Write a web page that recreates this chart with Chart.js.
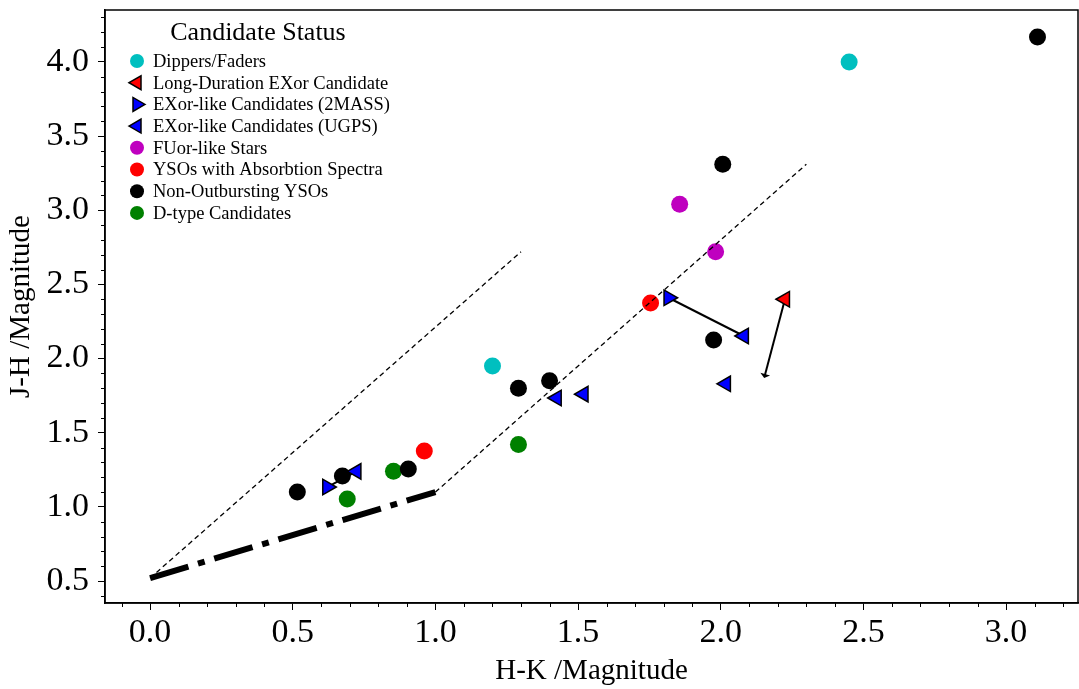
<!DOCTYPE html>
<html>
<head>
<meta charset="utf-8">
<script src="https://cdn.jsdelivr.net/npm/chart.js@4.4.0/dist/chart.umd.min.js"></script>
<style>
  body { margin: 0; background: #fff; }
  canvas { display: block; }
</style>
</head>
<body>
<canvas id="ccd" width="1079" height="689"></canvas>
<script>
// ===== Data =====
const dippersFaders   = [{ x: 2.45, y: 4.00 }, { x: 1.20, y: 1.95 }];
const longDurationEXor = [{ x: 2.225, y: 2.40 }];
const exor2MASS       = [{ x: 1.817, y: 2.41 }, { x: 0.621, y: 1.134 }];
const exorUGPS        = [{ x: 2.081, y: 2.152 }, { x: 1.425, y: 1.734 }, { x: 1.519, y: 1.76 },
                         { x: 2.018, y: 1.83 }, { x: 0.723, y: 1.24 }];
const fuorStars       = [{ x: 1.856, y: 3.04 }, { x: 1.982, y: 2.72 }];
const absorptionYSOs  = [{ x: 1.754, y: 2.375 }, { x: 0.961, y: 1.377 }];
const nonOutbursting  = [{ x: 3.11, y: 4.168 }, { x: 2.007, y: 3.31 }, { x: 1.975, y: 2.125 },
                         { x: 1.291, y: 1.80 }, { x: 1.40, y: 1.85 }, { x: 0.516, y: 1.10 },
                         { x: 0.674, y: 1.208 }, { x: 0.905, y: 1.255 }];
const dTypeCandidates = [{ x: 1.291, y: 1.42 }, { x: 0.853, y: 1.24 }, { x: 0.691, y: 1.053 }];

// CTTS locus and reddening bands
const cttsLocus      = [{ x: 0.0, y: 0.52 }, { x: 1.0, y: 1.10 }];
const reddeningUpper = [{ x: 0.0, y: 0.52 }, { x: 1.3, y: 2.72 }];
const reddeningLower = [{ x: 1.0, y: 1.10 }, { x: 2.3, y: 3.31 }];

// 2MASS -> UGPS movement arrows
const arrowLinks = [
  [{ x: 1.817, y: 2.41 }, { x: 2.081, y: 2.152 }],
  [{ x: 2.225, y: 2.40 }, { x: 2.154, y: 1.882 }],
  [{ x: 0.621, y: 1.134 }, { x: 0.723, y: 1.24 }]
];

const xTicks = [0.0, 0.5, 1.0, 1.5, 2.0, 2.5, 3.0];
const yTicks = [0.5, 1.0, 1.5, 2.0, 2.5, 3.0, 3.5, 4.0];
const xRange = [-0.158, 3.252];
const yRange = [0.352, 4.35];

const FONT = "'Liberation Serif', 'DejaVu Serif', serif";

// ===== Legend entries (custom drawn, matplotlib style) =====
const legendItems = [
  { label: 'Dippers/Faders', style: 'circle', fill: '#00bfbf', border: null, rot: 0 },
  { label: 'Long-Duration EXor Candidate', style: 'triangle', fill: '#ff0000', border: '#000', rot: -90 },
  { label: 'EXor-like Candidates (2MASS)', style: 'triangle', fill: '#0000ff', border: '#000', rot: 90 },
  { label: 'EXor-like Candidates (UGPS)', style: 'triangle', fill: '#0000ff', border: '#000', rot: -90 },
  { label: 'FUor-like Stars', style: 'circle', fill: '#bf00bf', border: null, rot: 0 },
  { label: 'YSOs with Absorbtion Spectra', style: 'circle', fill: '#ff0000', border: null, rot: 0 },
  { label: 'Non-Outbursting YSOs', style: 'circle', fill: '#000000', border: null, rot: 0 },
  { label: 'D-type Candidates', style: 'circle', fill: '#008000', border: null, rot: 0 }
];

function circles(data, color) {
  return { type: 'scatter', data, backgroundColor: color, borderWidth: 0, pointRadius: 8.5, pointStyle: 'circle' };
}
function triangles(data, color, rot) {
  return { type: 'scatter', data, backgroundColor: color, borderColor: '#000', borderWidth: 1.5,
           pointRadius: 9, pointStyle: 'triangle', rotation: rot };
}
function segment(data, width, dash) {
  return { type: 'line', data, borderColor: '#000', borderWidth: width, borderDash: dash,
           pointRadius: 0, fill: false, tension: 0, borderCapStyle: 'butt' };
}

const datasets = [
  // lines first so they are drawn on top of the markers
  segment(reddeningUpper, 1.3, [5, 3.5]),
  segment(reddeningLower, 1.3, [5, 3.5]),
  segment(cttsLocus, 6, [40, 10, 7, 10]),
  triangles(longDurationEXor, '#ff0000', -90),
  triangles(exor2MASS, '#0000ff', 90),
  triangles(exorUGPS, '#0000ff', -90),
  ...arrowLinks.map(a => segment(a, 2, [])),
  circles(dippersFaders, '#00bfbf'),
  circles(fuorStars, '#bf00bf'),
  circles(absorptionYSOs, '#ff0000'),
  circles(nonOutbursting, '#000000'),
  circles(dTypeCandidates, '#008000')
];

/* ===== Frame, minor ticks, arrowhead, legend ===== */
const decorPlugin = {
  id: 'decor',
  afterDraw(chart) {
    const { ctx, chartArea: a, scales } = chart;
    const xs = scales.x, ys = scales.y;
    ctx.save();
    // full box
    ctx.strokeStyle = '#000';
    ctx.lineWidth = 1.5;
    ctx.strokeRect(a.left, a.top, a.right - a.left, a.bottom - a.top);

    // minor ticks every 0.1
    ctx.lineWidth = 1;
    for (let i = -1; i <= 32; i++) {
      if (i % 5 === 0) continue;
      const px = Math.round(xs.getPixelForValue(i / 10)) + 0.5;
      if (px < a.left || px > a.right) continue;
      ctx.beginPath(); ctx.moveTo(px, a.bottom); ctx.lineTo(px, a.bottom + 4); ctx.stroke();
    }
    for (let i = 4; i <= 43; i++) {
      if (i % 5 === 0) continue;
      const py = Math.round(ys.getPixelForValue(i / 10)) + 0.5;
      if (py < a.top || py > a.bottom) continue;
      ctx.beginPath(); ctx.moveTo(a.left, py); ctx.lineTo(a.left - 4, py); ctx.stroke();
    }

    // arrowhead on the long-duration candidate's track
    const link = arrowLinks[1];
    const x0 = xs.getPixelForValue(link[0].x), y0 = ys.getPixelForValue(link[0].y);
    const x1 = xs.getPixelForValue(link[1].x), y1 = ys.getPixelForValue(link[1].y);
    const ang = Math.atan2(y1 - y0, x1 - x0);
    ctx.translate(x1, y1);
    ctx.rotate(ang);
    ctx.fillStyle = '#000';
    ctx.beginPath(); ctx.moveTo(2, 0); ctx.lineTo(-2, -5); ctx.lineTo(-2, 5); ctx.closePath(); ctx.fill();
    ctx.setTransform(1, 0, 0, 1, 0, 0);

    // legend
    ctx.fillStyle = '#000';
    ctx.font = `26px ${FONT}`;
    ctx.textAlign = 'center';
    ctx.textBaseline = 'middle';
    ctx.fillText('Candidate Status', 258, 33);
    ctx.font = `18.5px ${FONT}`;
    ctx.textAlign = 'left';
    legendItems.forEach((it, i) => {
      const y = 61 + i * 21.7;
      ctx.fillStyle = it.fill;
      ctx.strokeStyle = it.border || it.fill;
      ctx.lineWidth = it.border ? 1.5 : 0;
      Chart.helpers.drawPoint(ctx, {
        pointStyle: it.style, radius: it.style === 'circle' ? 7 : 8,
        rotation: it.rot, borderWidth: it.border ? 1.5 : 0
      }, 137, y);
      ctx.fillStyle = '#000';
      ctx.fillText(it.label, 153, y + 1);
    });
    ctx.restore();
  }
};

new Chart(document.getElementById('ccd'), {
  type: 'scatter',
  data: { datasets },
  options: {
    responsive: false,
    animation: false,
    layout: { autoPadding: false, padding: { top: 10, right: 1, left: 0, bottom: 0 } },
    plugins: { legend: { display: false }, tooltip: { enabled: false } },
    scales: {
      x: {
        type: 'linear', min: xRange[0], max: xRange[1],
        afterBuildTicks: s => { s.ticks = xTicks.map(v => ({ value: v })); },
        afterFit: s => { s.height = 86; s.paddingLeft = 0; s.paddingRight = 0; },
        ticks: { color: '#000', font: { family: FONT, size: 34 }, padding: 3,
                 maxRotation: 0, autoSkip: false, callback: v => v.toFixed(1) },
        grid: { drawOnChartArea: false, drawTicks: true, tickLength: 7, tickColor: '#000', tickWidth: 1 },
        border: { display: true, color: '#000', width: 1.5 },
        title: { display: true, text: 'H-K /Magnitude', color: '#000',
                 font: { family: FONT, size: 29 }, padding: { top: 0, bottom: 0 } }
      },
      y: {
        type: 'linear', min: yRange[0], max: yRange[1],
        afterBuildTicks: s => { s.ticks = yTicks.map(v => ({ value: v })); },
        afterFit: s => { s.width = 105; s.paddingTop = 0; s.paddingBottom = 0; },
        ticks: { color: '#000', font: { family: FONT, size: 34 }, padding: 9,
                 autoSkip: false, callback: v => v.toFixed(1) },
        grid: { drawOnChartArea: false, drawTicks: true, tickLength: 7, tickColor: '#000', tickWidth: 1 },
        border: { display: true, color: '#000', width: 1.5 },
        title: { display: true, text: 'J-H /Magnitude', color: '#000',
                 font: { family: FONT, size: 29 }, padding: { top: 4, bottom: 0 } }
      }
    }
  },
  plugins: [decorPlugin]
});
</script>
</body>
</html>
